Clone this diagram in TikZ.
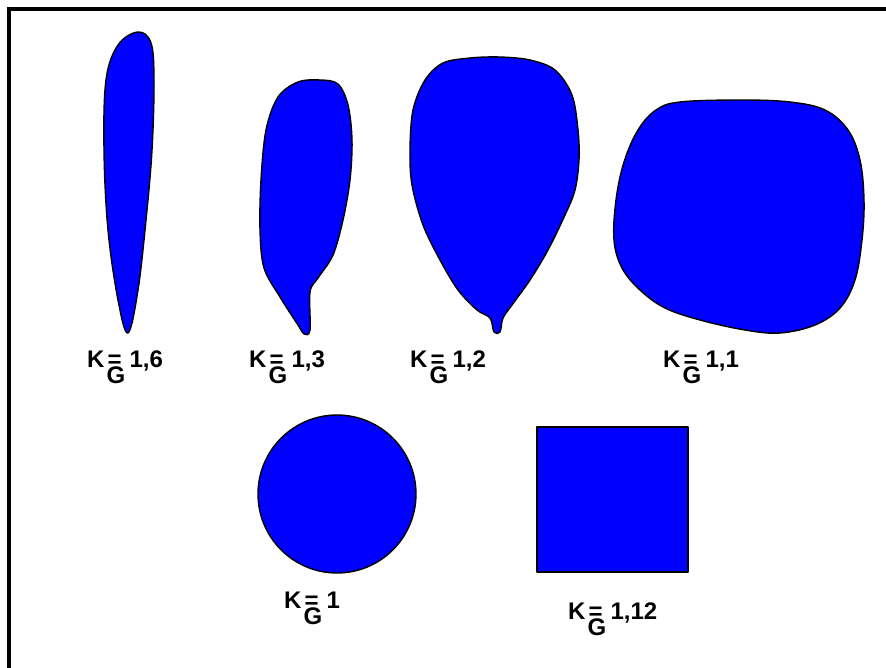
\documentclass[tikz,border=0pt]{standalone}
\usepackage{fontspec}
\setmainfont{Liberation Sans}
\usetikzlibrary{positioning}

% label K_G = value, with the G set under the equals sign
\newcommand{\kgval}[1]{K\hspace{3pt}\rlap{\hspace{-1pt}\raisebox{-16pt}{G}}=\hspace{8pt}#1}

\begin{document}
\begin{tikzpicture}[
    x=1pt,
    y=-1pt,
    blob/.style={
        draw=black,
        fill=blue,
        line width=1.4pt,
        line join=round
    },
    kglabel/.style={
        anchor=base west,
        inner sep=0pt,
        font=\fontsize{24pt}{28pt}\selectfont\bfseries
    },
    frameline/.style={
        draw=black,
        line width=3.5pt
    }
]

\useasboundingbox (0,0) rectangle (886,667);

% ==========================================================
% Frame (only left and top edges are in view)
% ==========================================================
\draw[frameline] (9,680) -- (9,9) -- (900,9);

% ==========================================================
% Upper row of shapes
% ==========================================================
\draw[blob] plot[smooth cycle, tension=0.6] coordinates {
    (138,32) (151,43) (154,80) (152,150) (146,220) (138,290)
    (128,333) (118,300) (108,230) (104,150) (106,80) (118,45)
};

\draw[blob] plot[smooth cycle, tension=0.55] coordinates {
    (320,80) (338,84) (348,105) (352,140) (350,180) (343,220)
    (333,255) (318,278) (310,292) (310,330) (304,334) (298,325)
    (280,297) (264,268) (260,230) (261,180) (266,130) (278,97)
    (298,82)
};

\draw[blob] plot[smooth cycle, tension=0.55] coordinates {
    (500,57) (530,60) (555,70) (572,95) (578,130) (579,160)
    (575,190) (565,215) (548,250) (530,280) (512,305) (503,318)
    (500,332) (494,332) (490,318) (477,310) (458,290) (440,260)
    (423,225) (412,185) (410,150) (413,110) (425,80) (443,63)
    (470,58)
};

\draw[blob] plot[smooth cycle, tension=0.6] coordinates {
    (680,102) (740,100) (790,102) (825,110) (848,130) (860,160)
    (864,200) (862,240) (855,280) (840,308) (815,325) (780,333)
    (745,330) (700,320) (665,308) (640,290) (622,268) (614,240)
    (616,200) (624,162) (638,130) (656,110)
};

% ==========================================================
% Lower row: circle and square
% ==========================================================
\draw[blob] (337,494) circle[radius=79];
\draw[blob] (537,427) rectangle (688,572);

% ==========================================================
% Labels
% ==========================================================
\node[kglabel] (kga) at (87,367)  {\kgval{1,6}};
\node[kglabel] (kgb) at (249,367) {\kgval{1,3}};
\node[kglabel] (kgc) at (410,367) {\kgval{1,2}};
\node[kglabel] (kgd) at (663,367) {\kgval{1,1}};
\node[kglabel] (kge) at (284,608) {\kgval{1}};
\node[kglabel] (kgf) at (568,619) {\kgval{1,12}};

\end{tikzpicture}
\end{document}
